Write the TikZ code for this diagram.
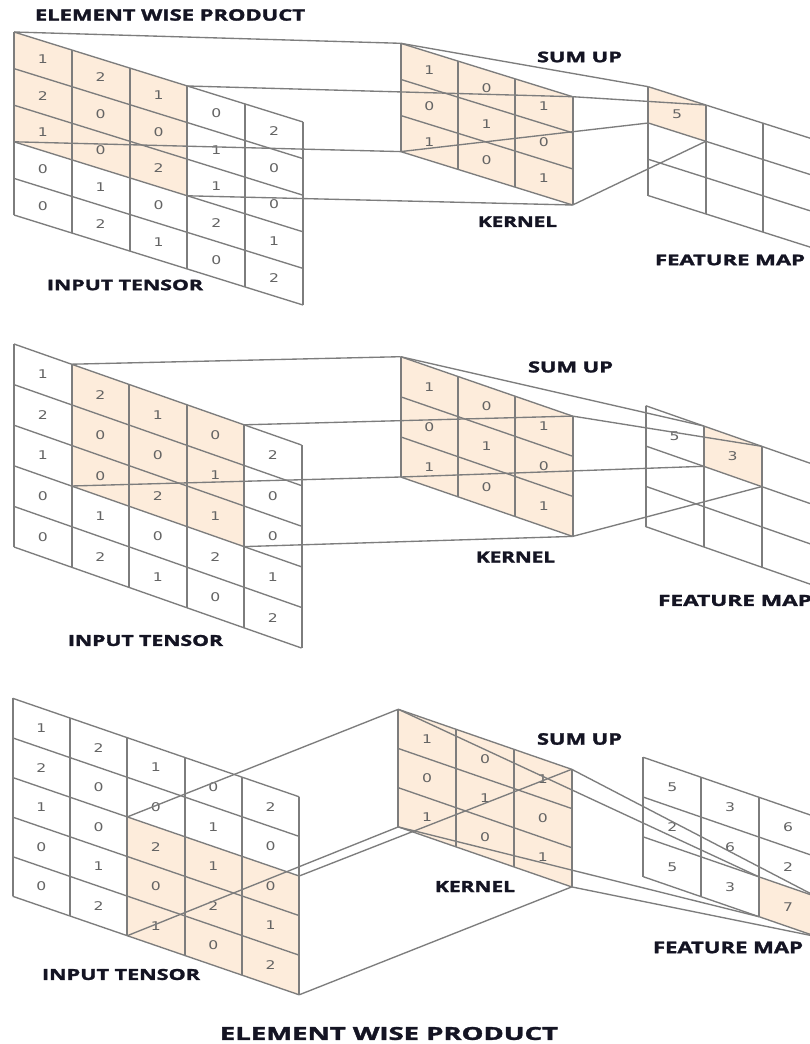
\documentclass[tikz,border=0pt]{standalone}
\usepackage{fontspec}
\usepackage{graphicx}
\setmainfont{Open Sans}
\newfontfamily\lblfont[BoldFeatures={FakeBold=1.6}]{Open Sans}
\newfontfamily\numfont{DejaVu Sans}
\definecolor{peach}{RGB}{253,236,219}
\definecolor{gridgray}{RGB}{125,125,125}
\definecolor{lblcol}{RGB}{20,20,35}
\definecolor{numcol}{RGB}{100,100,100}
\tikzset{
  hline/.style={draw=gridgray, line width=1.35pt},
  vline/.style={draw=gridgray, line width=2pt},
  conn/.style={draw=gridgray, line width=1.35pt},
  hlfill/.style={fill=peach},
  num/.style={inner sep=0pt, text=numcol, font=\numfont\fontsize{12}{12}\selectfont},
  lbl/.style={inner sep=0pt, text=lblcol, font=\lblfont\bfseries},
}
% name, X, Y, DX, DY, H, ncols, nrows
\newcommand{\mkgrid}[8]{%
  \foreach \i in {0,...,#7}{\foreach \j in {0,...,#8}{%
    \coordinate (#1-\i-\j) at ({#2+\i*#4},{#3+\i*#5+\j*#6});}}%
  \pgfmathtruncatemacro{\lastc}{#7-1}\pgfmathtruncatemacro{\lastr}{#8-1}%
  \foreach \i in {0,...,\lastc}{\foreach \j in {0,...,\lastr}{%
    \coordinate (#1-m-\i-\j) at ({#2+(\i+0.5)*#4},{#3+(\i+0.5)*#5+(\j+0.5)*#6});}}%
}
% name, ncols, nrows
\newcommand{\drawgrid}[3]{%
  \foreach \j in {0,...,#3}{\draw[hline] (#1-0-\j) -- (#1-#2-\j);}%
  \foreach \i in {0,...,#2}{\draw[vline] (#1-\i-0) -- (#1-\i-#3);}%
}
% name, c0, r0, c1, r1
\newcommand{\hlcells}[5]{\fill[hlfill] (#1-#2-#3) -- (#1-#4-#3) -- (#1-#4-#5) -- (#1-#2-#5) -- cycle;}
% name, rows
\newcommand{\nums}[2]{%
  \foreach \rowv [count=\r from 0] in {#2}{%
    \foreach \v [count=\c from 0] in \rowv {%
      \node[num] (#1-n-\c-\r) at (#1-m-\c-\r) {\scalebox{1.3}[1]{\v}};}}%
}
\newcommand{\onenum}[4]{\node[num] (#1-n-#2-#3) at (#1-m-#2-#3) {\scalebox{1.3}[1]{#4}};}
% name, x, y, w, h, text
\newcommand{\mylabel}[6]{\node[lbl] (#1) at (#2,#3) {\resizebox{#4pt}{#5pt}{#6}};}

\begin{document}
\begin{tikzpicture}[x=1pt,y=-1pt]
\useasboundingbox (0,0) rectangle (810,1044);
\clip (0,0) rectangle (810,1044);
\fill[white] (0,0) rectangle (810,1044);

% ---------- grids ----------
\mkgrid{a1}{14}{32}{57.8}{18.0}{36.6}{5}{5}
\mkgrid{k1}{400.7}{43.3}{57.3}{17.8}{36.1}{3}{3}
\mkgrid{f1}{648.3}{86.7}{57.5}{18.3}{36.3}{3}{3}
\mkgrid{a2}{14}{344}{57.5}{20.2}{40.6}{5}{5}
\mkgrid{k2}{400.7}{356.7}{57.3}{19.8}{40.1}{3}{3}
\mkgrid{f2}{645.7}{405.7}{58}{20.3}{40.3}{3}{3}
\mkgrid{a3}{12.7}{698.3}{57.3}{19.7}{39.6}{5}{5}
\mkgrid{k3}{398.3}{709.3}{57.8}{20}{39.2}{3}{3}
\mkgrid{f3}{643.3}{757.3}{57.9}{20}{39.8}{3}{3}

% ---------- highlights ----------
\hlcells{a1}{0}{0}{3}{3}
\hlcells{k1}{0}{0}{3}{3}
\hlcells{f1}{0}{0}{1}{1}
\hlcells{a2}{1}{0}{4}{3}
\hlcells{k2}{0}{0}{3}{3}
\hlcells{f2}{1}{0}{2}{1}
\hlcells{a3}{2}{2}{5}{5}
\hlcells{k3}{0}{0}{3}{3}
\hlcells{f3}{2}{2}{3}{3}

% ---------- grid lines ----------
\drawgrid{a1}{5}{5}
\drawgrid{k1}{3}{3}
\drawgrid{f1}{3}{3}
\drawgrid{a2}{5}{5}
\drawgrid{k2}{3}{3}
\drawgrid{f2}{3}{3}
\drawgrid{a3}{5}{5}
\drawgrid{k3}{3}{3}
\drawgrid{f3}{3}{3}

% ---------- numbers ----------
\nums{a1}{{1,2,1,0,2},{2,0,0,1,0},{1,0,2,1,0},{0,1,0,2,1},{0,2,1,0,2}}
\nums{a2}{{1,2,1,0,2},{2,0,0,1,0},{1,0,2,1,0},{0,1,0,2,1},{0,2,1,0,2}}
\nums{a3}{{1,2,1,0,2},{2,0,0,1,0},{1,0,2,1,0},{0,1,0,2,1},{0,2,1,0,2}}
\nums{k1}{{1,0,1},{0,1,0},{1,0,1}}
\nums{k2}{{1,0,1},{0,1,0},{1,0,1}}
\nums{k3}{{1,0,1},{0,1,0},{1,0,1}}
\onenum{f1}{0}{0}{5}
\onenum{f2}{0}{0}{5}
\onenum{f2}{1}{0}{3}
\nums{f3}{{5,3,6},{2,6,2},{5,3,7}}

% ---------- connectors ----------
\draw[conn] (a1-0-0) -- (k1-0-0);
\draw[conn] (a1-3-0) -- (k1-3-0);
\draw[conn] (a1-0-3) -- (k1-0-3);
\draw[conn] (a1-3-3) -- (k1-3-3);
\draw[conn] (k1-0-0) -- (f1-0-0);
\draw[conn] (k1-3-0) -- (f1-1-0);
\draw[conn] (k1-0-3) -- (f1-0-1);
\draw[conn] (k1-3-3) -- (f1-1-1);

\draw[conn] (a2-1-0) -- (k2-0-0);
\draw[conn] (a2-4-0) -- (k2-3-0);
\draw[conn] (a2-1-3) -- (k2-0-3);
\draw[conn] (a2-4-3) -- (k2-3-3);
\draw[conn] (k2-0-0) -- (f2-1-0);
\draw[conn] (k2-3-0) -- (f2-2-0);
\draw[conn] (k2-0-3) -- (f2-1-1);
\draw[conn] (k2-3-3) -- (f2-2-1);

\draw[conn] (a3-2-2) -- (k3-0-0);
\draw[conn] (a3-5-2) -- (k3-3-0);
\draw[conn] (a3-2-5) -- (k3-0-3);
\draw[conn] (a3-5-5) -- (k3-3-3);
\draw[conn] (k3-0-0) -- (f3-2-2);
\draw[conn] (k3-3-0) -- (f3-3-2);
\draw[conn] (k3-0-3) -- (f3-2-3);
\draw[conn] (k3-3-3) -- (f3-3-3);

% ---------- labels ----------
\mylabel{ewptop}{170}{15}{270}{11.4}{ELEMENT WISE PRODUCT}
\mylabel{in1}{125}{285}{156}{10.5}{INPUT TENSOR}
\mylabel{sum1}{579.5}{57}{85}{10.6}{SUM UP}
\mylabel{ker1}{517.5}{221.7}{79}{10.5}{KERNEL}
\mylabel{fm1}{730}{260}{150}{10.5}{FEATURE MAP}
\mylabel{in2}{145.5}{640.5}{155}{11}{INPUT TENSOR}
\mylabel{sum2}{570.5}{367}{85}{11}{SUM UP}
\mylabel{ker2}{515.5}{557}{79}{11}{KERNEL}
\mylabel{fm2}{735}{600.5}{154}{11}{FEATURE MAP}
\mylabel{in3}{121}{974.5}{158}{11}{INPUT TENSOR}
\mylabel{sum3}{579.5}{739}{85}{11.5}{SUM UP}
\mylabel{ker3}{475}{886.5}{80}{11}{KERNEL}
\mylabel{fm3}{728}{947.5}{150}{11.5}{FEATURE MAP}
\mylabel{ewpbot}{389}{1033.5}{338}{13}{ELEMENT WISE PRODUCT}
\end{tikzpicture}
\end{document}
